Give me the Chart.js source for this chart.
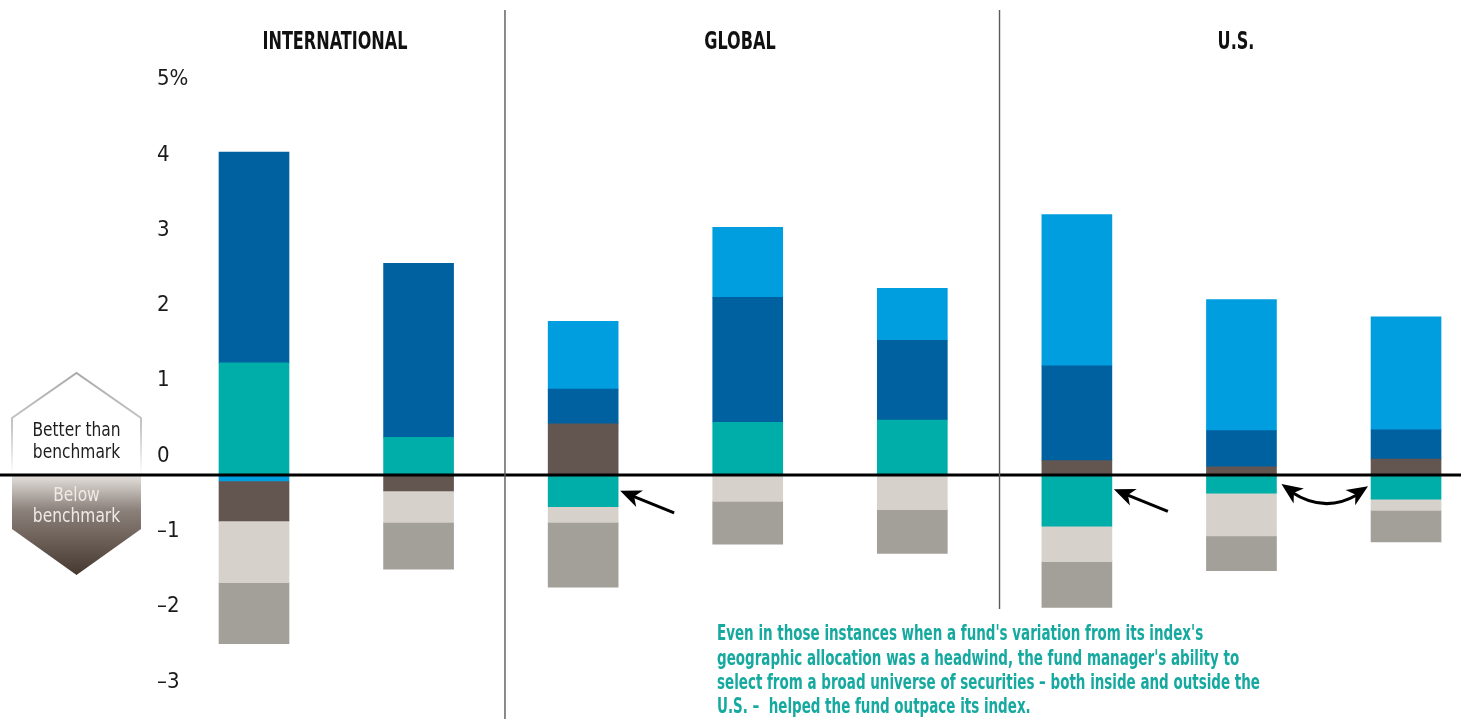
<!DOCTYPE html>
<html>
<head>
<meta charset="utf-8">
<script src="https://cdn.jsdelivr.net/npm/chart.js@4.4.1/dist/chart.umd.min.js"></script>
<style>
  html, body { margin: 0; padding: 0; background: #fff; overflow: hidden; }
  canvas { display: block; }
</style>
</head>
<body>
<canvas id="attribution" width="1461" height="719"></canvas>
<script>
// eight funds, left to right: 2 international, 3 global, 3 U.S.
var funds = ['International A', 'International B', 'Global A', 'Global B', 'Global C', 'U.S. A', 'U.S. B', 'U.S. C'];
var groups = ['INTERNATIONAL', 'GLOBAL', 'U.S.'];
var yTicks = [-3, -2, -1, 0, 1, 2, 3, 4, 5];
var yTickLabels = ['–3', '–2', '–1', '0', '1', '2', '3', '4', '5%'];

// segment sizes in percentage points, one array per segment colour
var lightBlue = [-0.08, 0, 0.90, 0.93, 0.69, 2.01, 1.74, 1.50];
var darkBlue  = [2.80, 2.31, 0.46, 1.66, 1.06, 1.26, 0.48, 0.39];
var teal      = [1.49, 0.50, -0.42, 0.70, 0.73, -0.68, -0.24, -0.32];
var brown     = [-0.53, -0.21, 0.68, 0, 0, 0.19, 0.11, 0.21];
var lightGray = [-0.82, -0.42, -0.21, -0.35, -0.46, -0.47, -0.57, -0.15];
var midGray   = [-0.81, -0.62, -0.86, -0.57, -0.58, -0.61, -0.46, -0.42];

var note = [
  "Even in those instances when a fund's variation from its index's",
  "geographic allocation was a headwind, the fund manager's ability to",
  "select from a broad universe of securities – both inside and outside the",
  "U.S. –  helped the fund outpace its index."
];

var NARROW = "'Liberation Sans Narrow', 'DejaVu Sans Condensed', 'Roboto', sans-serif";
var colors = {
  lightBlue: '#009ddf',
  darkBlue: '#0061a0',
  teal: '#00aea9',
  brown: '#635650',
  lightGray: '#d6d1cb',
  midGray: '#a39f99'
};
var series = {
  lightBlue: lightBlue, darkBlue: darkBlue, teal: teal,
  brown: brown, lightGray: lightGray, midGray: midGray
};

// positive parts stack upward in this order, negative parts downward in the other
var upOrder = ['brown', 'teal', 'darkBlue', 'lightBlue'];
var downOrder = ['lightBlue', 'brown', 'teal', 'lightGray', 'midGray'];

function part(values, up) {
  return values.map(function (v, i) {
    var keep = up ? v > 0 : v < 0;
    return { x: i, y: keep ? v : null };
  });
}

var datasets = [];
upOrder.forEach(function (k) {
  datasets.push({ label: k, data: part(series[k], true), backgroundColor: colors[k] });
});
downOrder.forEach(function (k) {
  datasets.push({ label: k, data: part(series[k], false), backgroundColor: colors[k] });
});
datasets.forEach(function (d) {
  d.barThickness = 70;
  d.borderWidth = 0;
  d.clip = false;
});

function arrowHead(ctx, tx, ty, fx, fy, len, half) {
  var a = Math.atan2(ty - fy, tx - fx);
  ctx.save();
  ctx.translate(tx, ty);
  ctx.rotate(a);
  ctx.beginPath();
  ctx.moveTo(0, 0);
  ctx.lineTo(-len, -half);
  ctx.lineTo(-len * 0.72, 0);
  ctx.lineTo(-len, half);
  ctx.closePath();
  ctx.fill();
  ctx.restore();
}

function condensedText(ctx, text, x, y, squeeze) {
  ctx.save();
  ctx.translate(x, y);
  ctx.scale(squeeze, 1);
  ctx.fillText(text, 0, 0);
  ctx.restore();
}

var decor = {
  id: 'decor',
  afterDraw: function (chart) {
    var ctx = chart.ctx;
    var xs = chart.scales.x, ys = chart.scales.y;
    var y0 = ys.getPixelForValue(0);
    ctx.save();

    // badge on the left
    var bl = 12, br = 141, bc = 76.5;
    var g = ctx.createLinearGradient(0, 373, 0, y0);
    g.addColorStop(0, '#a9a9a9');
    g.addColorStop(0.55, '#c9c9c9');
    g.addColorStop(1, '#ffffff');
    ctx.strokeStyle = g;
    ctx.lineWidth = 2;
    ctx.beginPath();
    ctx.moveTo(bl, y0);
    ctx.lineTo(bl, 418);
    ctx.lineTo(bc, 373);
    ctx.lineTo(br, 418);
    ctx.lineTo(br, y0);
    ctx.stroke();
    var g2 = ctx.createLinearGradient(0, y0, 0, 575);
    g2.addColorStop(0, '#e6e2de');
    g2.addColorStop(0.35, '#8c817b');
    g2.addColorStop(1, '#45382f');
    ctx.fillStyle = g2;
    ctx.beginPath();
    ctx.moveTo(bl, y0);
    ctx.lineTo(bl, 529);
    ctx.lineTo(bc, 575);
    ctx.lineTo(br, 529);
    ctx.lineTo(br, y0);
    ctx.closePath();
    ctx.fill();
    ctx.font = '20px ' + NARROW;
    ctx.textAlign = 'center';
    ctx.textBaseline = 'middle';
    ctx.fillStyle = '#1e1e1e';
    condensedText(ctx, 'Better than', bc, 431, 0.86);
    condensedText(ctx, 'benchmark', bc, 453, 0.86);
    ctx.fillStyle = '#efeae6';
    condensedText(ctx, 'Below', bc, 496, 0.86);
    condensedText(ctx, 'benchmark', bc, 517, 0.86);

    // zero line
    ctx.strokeStyle = '#000';
    ctx.lineWidth = 3;
    ctx.beginPath();
    ctx.moveTo(0, y0);
    ctx.lineTo(chart.width, y0);
    ctx.stroke();

    // dividers between groups
    ctx.strokeStyle = '#5a5a5a';
    ctx.lineWidth = 1.4;
    ctx.beginPath();
    ctx.moveTo(xs.getPixelForValue(1.525), 10);
    ctx.lineTo(xs.getPixelForValue(1.525), chart.height);
    ctx.moveTo(xs.getPixelForValue(4.53), 10);
    ctx.lineTo(xs.getPixelForValue(4.53), ys.getPixelForValue(-1.78));
    ctx.stroke();

    // group titles
    ctx.fillStyle = '#111';
    ctx.font = 'bold 24px ' + NARROW;
    ctx.textAlign = 'center';
    var titleSqueeze = Math.min(1, 145 / ctx.measureText(groups[0]).width);
    var titleAt = [0.492, 2.953, 5.967];
    groups.forEach(function (t, i) {
      condensedText(ctx, t, xs.getPixelForValue(titleAt[i]), 43, titleSqueeze);
    });

    // arrows
    ctx.fillStyle = '#000';
    ctx.strokeStyle = '#000';
    ctx.lineWidth = 3;
    [[2, -0.21], [5, -0.19]].forEach(function (a) {
      var tx = xs.getPixelForValue(a[0]) + 37, ty = ys.getPixelForValue(a[1]);
      var fx = tx + 54, fy = ty + 22;
      ctx.beginPath();
      ctx.moveTo(fx, fy);
      ctx.lineTo(tx + 12, ty + 5);
      ctx.stroke();
      arrowHead(ctx, tx, ty, fx, fy, 21, 9);
    });
    var sx = xs.getPixelForValue(6) + 40, sy = ys.getPixelForValue(-0.12);
    var ex = xs.getPixelForValue(7) - 38, ey = ys.getPixelForValue(-0.15);
    var cx = (sx + ex) / 2, cy = sy + 30;
    ctx.beginPath();
    ctx.moveTo(sx + 10, sy + 8);
    ctx.quadraticCurveTo(cx, cy, ex - 10, ey + 8);
    ctx.stroke();
    arrowHead(ctx, sx, sy, cx, cy, 21, 9);
    arrowHead(ctx, ex, ey, cx, cy, 21, 9);

    // note
    ctx.fillStyle = '#15a99f';
    ctx.font = 'bold 21px ' + NARROW;
    ctx.textAlign = 'left';
    ctx.textBaseline = 'middle';
    var widest = ctx.measureText(note[2]).width;
    var squeeze = Math.min(1, 543 / widest);
    note.forEach(function (line, i) {
      condensedText(ctx, line, 717, 635 + i * 24.3, squeeze);
    });

    ctx.restore();
  }
};

new Chart(document.getElementById('attribution'), {
  type: 'bar',
  data: { labels: funds, datasets: datasets },
  options: {
    responsive: false,
    animation: false,
    devicePixelRatio: 1,
    layout: { padding: { left: 157, right: 0, top: 98.5, bottom: 18.1 } },
    plugins: {
      legend: { display: false },
      tooltip: { enabled: false }
    },
    scales: {
      x: {
        type: 'linear',
        stacked: true,
        offset: false,
        min: -0.3585,
        max: 7.334,
        display: false
      },
      y: {
        stacked: true,
        min: -3,
        max: 5,
        grid: { display: false },
        border: { display: false },
        afterFit: function (s) { s.width = 38; },
        ticks: {
          stepSize: 1,
          crossAlign: 'far',
          padding: 0,
          labelOffset: -19,
          color: '#1a1a1a',
          font: { family: NARROW, size: 22 },
          callback: function (v) {
            var i = yTicks.indexOf(v);
            return i < 0 ? '' : yTickLabels[i];
          }
        }
      }
    }
  },
  plugins: [decor]
});
</script>
</body>
</html>
